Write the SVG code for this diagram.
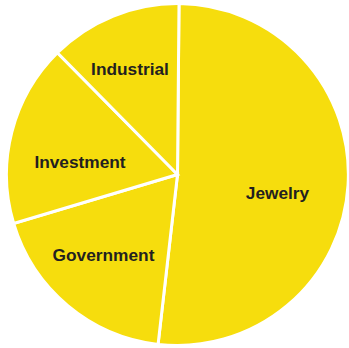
<svg xmlns="http://www.w3.org/2000/svg" width="349" height="348" viewBox="0 0 349 348">
<style>
.slice{fill:#F6DD0D;stroke:#FFFFFF;stroke-width:3;stroke-linejoin:miter}
.lbl{font-family:"Liberation Sans",Arial,sans-serif;font-weight:bold;font-size:17.3px;fill:#231F20;text-anchor:middle}
</style>
<rect width="349" height="348" fill="#FFFFFF"/>
<g id="jewelry">
<path class="slice" d="M177.5,174.5 L179,3.5 A171,171 0 1 1 158.07,344.4 Z"/>
<text class="lbl" x="277.5" y="199">Jewelry</text>
</g>
<g id="government">
<path class="slice" d="M177.5,174.5 L158.07,344.4 A171,171 0 0 1 13.66,223.5 Z"/>
<text class="lbl" x="103.5" y="261">Government</text>
</g>
<g id="investment">
<path class="slice" d="M177.5,174.5 L13.66,223.5 A171,171 0 0 1 57.42,52.73 Z"/>
<text class="lbl" x="80" y="168">Investment</text>
</g>
<g id="industrial">
<path class="slice" d="M177.5,174.5 L57.42,52.73 A171,171 0 0 1 179,3.5 Z"/>
<text class="lbl" x="130" y="75">Industrial</text>
</g>
<g id="connectors"></g>
</svg>
